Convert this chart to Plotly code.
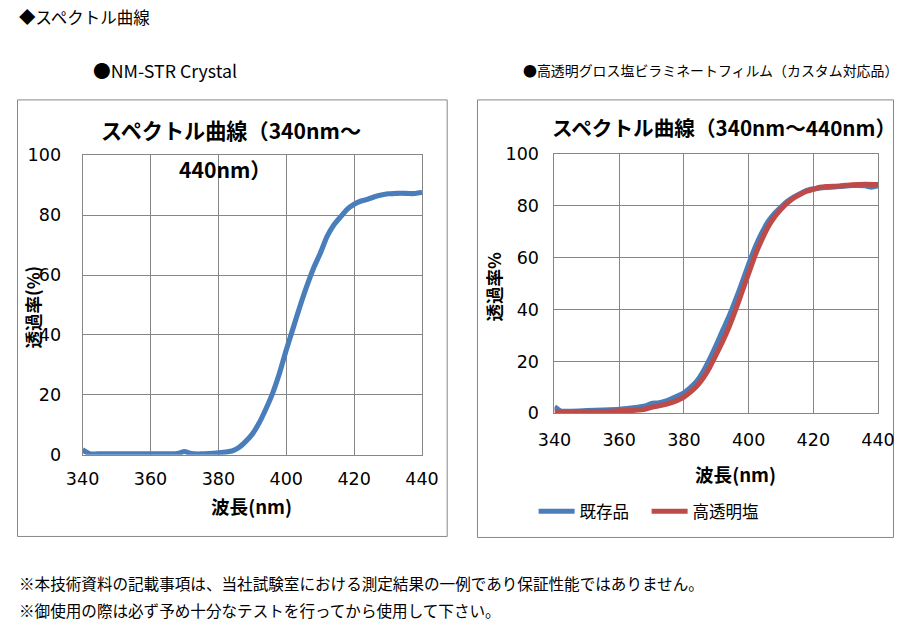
import plotly.graph_objects as go

W, H = 911, 625

# ---------------- data ----------------
left_nm = [340, 342, 345, 350, 355, 360, 365, 368, 370, 372, 375, 380, 384, 386, 388, 390,
           392, 394, 396, 398, 400, 402, 404, 406, 408, 410, 412, 414, 416, 418, 420,
           422, 424, 426, 428, 430, 432, 434, 436, 438, 440]
left_T = [1.7, 0.4, 0.3, 0.3, 0.3, 0.3, 0.3, 0.4, 1.1, 0.4, 0.3, 0.7, 1.3, 2.4, 4.4, 6.9,
          10.6, 15.3, 20.6, 27.2, 35.0, 42.2, 49.4, 56.1, 62.2, 67.2, 72.8, 76.7, 79.4, 82.0, 83.6,
          84.7, 85.3, 86.1, 86.7, 87.1, 87.2, 87.3, 87.2, 87.2, 87.6]

right_nm_blue = [340, 342, 345, 350, 355, 360, 365, 368, 370, 372, 375, 378, 380, 382, 384, 386,
                 388, 390, 392, 394, 396, 398, 400, 402, 404, 406, 408, 410, 412, 414, 416,
                 418, 420, 424, 428, 432, 436, 438, 440]
existing_T = [2.5, 0.8, 0.8, 1.0, 1.2, 1.5, 2.2, 2.8, 3.8, 4.0, 5.0, 6.6, 7.9, 9.9, 12.4, 16.2,
              21.0, 26.3, 32.0, 37.5, 43.8, 50.5, 57.5, 64.0, 69.4, 73.9, 77.1, 79.6, 81.8, 83.5, 84.8,
              86.0, 86.6, 87.2, 87.5, 87.9, 87.8, 87.3, 87.8]

right_nm_red = [340, 342, 345, 350, 355, 360, 365, 368, 370, 372, 375, 378, 380, 382, 384, 386,
                388, 390, 392, 394, 396, 398, 400, 402, 404, 406, 408, 410, 412, 414, 416,
                418, 420, 422, 424, 428, 432, 436, 440]
laminate_T = [0.4, 0.4, 0.5, 0.6, 0.7, 0.9, 1.2, 1.6, 2.3, 2.8, 3.7, 5.0, 6.3, 8.2, 10.5, 13.7,
              17.8, 22.7, 27.8, 33.5, 40.0, 47.0, 54.0, 61.0, 66.8, 71.9, 75.8, 78.7, 81.2, 83.1, 84.5,
              85.7, 86.4, 87.2, 87.5, 87.7, 88.2, 88.4, 88.3]

x_ticks = [340, 360, 380, 400, 420, 440]
y_ticks = [0, 20, 40, 60, 80, 100]

BLUE = "#4A7EBB"
RED = "#BE4B48"
GRID = "#868686"
JP = "Noto Sans CJK JP"
NUM = "DejaVu Sans"

# the rendered page shows up slightly shrunk and inset; layout positions below are
# given in target-picture pixels and mapped back through that inset
S, OX, OY = 0.969, 14.0, 8.0


def fx(x):
    return min(max((x - OX) / S, 0.5), W - 0.5)


def fy(y):
    return min(max((y - OY) / S, 0.5), H - 0.5)


def px(x):
    return fx(x) / W


def py(y):
    return 1 - fy(y) / H


def fs(size):
    return size / S


def so(gap):
    return int(round(gap / S))


fig = go.Figure()

fig.add_trace(go.Scatter(x=left_nm, y=left_T, mode="lines", xaxis="x", yaxis="y",
                         line=dict(color=BLUE, width=fs(5), shape="spline", smoothing=0.6),
                         showlegend=False, hoverinfo="x+y"))
fig.add_trace(go.Scatter(x=right_nm_blue, y=existing_T, mode="lines", xaxis="x2", yaxis="y2",
                         name="既存品",
                         line=dict(color=BLUE, width=fs(5), shape="spline", smoothing=0.6)))
fig.add_trace(go.Scatter(x=right_nm_red, y=laminate_T, mode="lines", xaxis="x2", yaxis="y2",
                         name="高透明塩ビラミネート",
                         line=dict(color=RED, width=fs(5), shape="spline", smoothing=0.6)))

axis_common = dict(showgrid=True, gridcolor=GRID, gridwidth=1, showline=True, linecolor=GRID,
                   linewidth=1, mirror=True, zeroline=False, ticks="",
                   tickfont=dict(family=NUM, size=fs(17), color="#000000"))

fig.update_layout(
    width=W, height=H, autosize=False,
    margin=dict(l=0, r=0, t=0, b=0),
    paper_bgcolor="white", plot_bgcolor="#E6E6E6",
    font=dict(family=JP, color="#000000"),
    xaxis=dict(domain=[px(80), px(421.7)], range=[340, 440], tickvals=x_ticks, anchor="y",
               ticklabelstandoff=so(8), **axis_common),
    yaxis=dict(domain=[py(453.3), py(153.3)], range=[0, 100], tickvals=y_ticks, anchor="x",
               ticklabelstandoff=so(16), **axis_common),
    xaxis2=dict(domain=[px(555), px(880.7)], range=[340, 440], tickvals=x_ticks, anchor="y2",
                ticklabelstandoff=so(11), **axis_common),
    yaxis2=dict(domain=[py(411.7), py(152.3)], range=[0, 100], tickvals=y_ticks, anchor="x2",
                ticklabelstandoff=so(11), **axis_common),
    legend=dict(orientation="h", x=px(534), y=py(510), xanchor="left", yanchor="middle",
                font=dict(family=JP, size=fs(16), color="#000000"), bgcolor="rgba(0,0,0,0)",
                itemwidth=36, entrywidth=int(round(60 / S)), tracegroupgap=0),
    shapes=[
        dict(type="rect", xref="paper", yref="paper", x0=px(14.5), x1=px(447), y0=py(535), y1=py(98),
             line=dict(color="#878787", width=1), fillcolor="white", layer="below"),
        dict(type="rect", xref="paper", yref="paper", x0=px(477.5), x1=px(907.5), y0=py(536), y1=py(98),
             line=dict(color="#878787", width=1), fillcolor="white", layer="below"),
    ],
)


def ann(text, x, y, size, bold=False, xanchor="center", angle=0, family=JP):
    t = f"<b>{text}</b>" if bold else text
    fig.add_annotation(text=t, xref="paper", yref="paper", x=px(x), y=py(y),
                       xanchor=xanchor, yanchor="middle", showarrow=False, textangle=angle,
                       font=dict(family=family, size=fs(size), color="#000000"))


ann("◆スペクトル曲線", 4, 15, 16, xanchor="left")
ann("●NM-STR Crystal", 88, 68, 17.2, xanchor="left")
ann("●高透明グロス塩ビラミネートフィルム（カスタム対応品）", 521, 68, 13.5, xanchor="left")

ann("スペクトル曲線（340nm～", 229, 128, 20.5, bold=True)
ann("440nm）", 224, 167, 20.5, bold=True)
ann("スペクトル曲線（340nm～440nm）", 726, 125, 20, bold=True)

ann("透過率(%)", 30, 305, 17, bold=True, angle=-90)
ann("透過率%", 494, 285, 17, bold=True, angle=-90)
ann("波長(nm)", 250, 504, 18, bold=True)
ann("波長(nm)", 737, 472, 18, bold=True)

ann("※本技術資料の記載事項は、当社試験室における測定結果の一例であり保証性能ではありません。", 4, 582, 15.1, xanchor="left")
ann("※御使用の際は必ず予め十分なテストを行ってから使用して下さい。", 4, 609, 15.1, xanchor="left")

fig.write_html("out.html")
